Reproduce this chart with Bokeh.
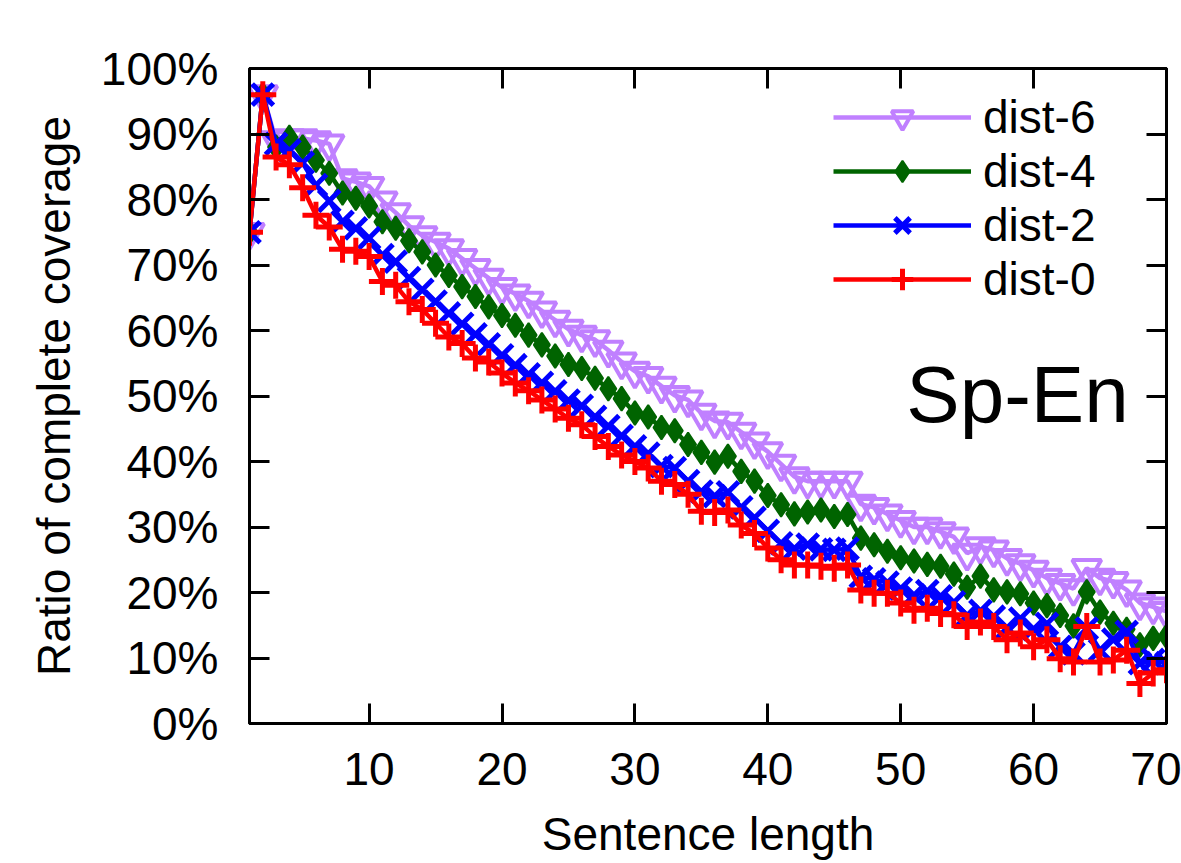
from bokeh.plotting import figure
from bokeh.models import (Range1d, FixedTicker, PrintfTickFormatter, LinearAxis,
                          Legend, LegendItem, Label)
from bokeh.embed import file_html
from bokeh.resources import INLINE

FONT = "Liberation Sans"

sentence_length = [1, 2, 3, 4, 5, 6, 7, 8, 9, 10,
                   11, 12, 13, 14, 15, 16, 17, 18, 19, 20,
                   21, 22, 23, 24, 25, 26, 27, 28, 29, 30,
                   31, 32, 33, 34, 35, 36, 37, 38, 39, 40,
                   41, 42, 43, 44, 45, 46, 47, 48, 49, 50,
                   51, 52, 53, 54, 55, 56, 57, 58, 59, 60,
                   61, 62, 63, 64, 65, 66, 67, 68, 69, 70]

dist6 = [75, 96, 89, 89.3, 89.3, 89, 88.5, 83.2, 82.7, 82, 79.8, 78, 76, 74.5, 73.5,
         72.5, 71, 69.5, 68, 66.6, 65.6, 64.5, 63, 61.6, 60.2, 59.3, 58.6, 57, 55.2, 53.8,
         53, 51.5, 50.1, 49.4, 47.4, 46.2, 46, 44.5, 43, 41.5, 39.6, 37.7, 37, 37, 37,
         37, 33.5, 33, 32, 31, 30, 30, 29.3, 28.5, 26, 27, 26.5, 25.2, 24.4, 23.4,
         22.2, 21.4, 20.6, 23.7, 22.2, 21.7, 20.4, 18.4, 17.8, 17.1]

dist4 = [75, 96, 88, 89.5, 88, 86, 84, 81, 80.2, 79, 76.6, 75.6, 73.7, 72, 70,
         68.4, 66.7, 65.2, 63.6, 62.3, 60.8, 59.3, 57.8, 56.1, 54.8, 54.2, 52.7, 51.1, 49.6, 47.4,
         46.8, 45.2, 44.7, 42.6, 41.4, 39.9, 40.8, 38.5, 37, 34.8, 33.4, 32, 32.3, 32.6, 31.6,
         31.9, 28.3, 27.3, 26.3, 25.3, 24.8, 24.3, 24, 22.8, 20.8, 22.5, 20.4, 20.1, 19.8, 18.4,
         18, 16.5, 14.9, 20.1, 17, 15.3, 14.4, 12, 13, 13.3]

dist2 = [75, 96, 88.5, 87.5, 85.6, 82.2, 79.8, 76.6, 75.6, 74.1, 71.5, 70.5, 68, 66.2, 64.4,
         62.6, 61, 59.4, 57.9, 56.2, 54.7, 53.3, 52, 50.7, 49.3, 48.5, 46.8, 45.4, 43.9, 42.3,
         41.2, 39.3, 39, 37, 35.4, 34.7, 35.3, 33, 31.4, 29.4, 27.5, 26.7, 27.3, 26.6, 26.5,
         26.7, 22.4, 22, 21.5, 20.6, 19.6, 20.2, 19.4, 18.5, 16.5, 17.2, 16.3, 14.6, 16, 14.4,
         15.2, 11.7, 10.7, 14.5, 11.2, 12.8, 14, 9.2, 9.7, 9.2]

dist0 = [75, 96, 86.5, 85.3, 81.8, 77.6, 75.8, 72.4, 72.1, 71.3, 67.5, 66.9, 64.4, 63.2, 61.1,
         59, 58, 55.8, 55.2, 53.5, 52, 50.8, 49.4, 48, 46.6, 45.6, 43.8, 42.3, 41, 40,
         39, 37, 36.5, 35, 32.4, 32.2, 32.6, 30.3, 29, 26.8, 25, 24.2, 24.2, 24, 23.7,
         24.2, 20.4, 19.9, 19.9, 18.4, 17.3, 17.6, 16.8, 16.6, 14.8, 15.5, 14.8, 12.8, 13.8, 11.7,
         12.8, 9.9, 9.4, 14.8, 9.4, 9.7, 11.2, 6.1, 7.7, 8.2]

x_ticks = [10, 20, 30, 40, 50, 60, 70]
y_ticks = [0, 10, 20, 30, 40, 50, 60, 70, 80, 90, 100]

p = figure(width=1181, height=863, x_range=Range1d(1, 70), y_range=Range1d(0, 100),
           output_backend="svg", toolbar_location=None,
           min_border_left=249, min_border_right=15, min_border_top=68, min_border_bottom=140,
           background_fill_color="white", border_fill_color="white")
p.grid.visible = False
p.outline_line_color = "black"
p.outline_line_width = 3

def style_axis(ax, show_labels=True):
    ax.major_tick_in = 20
    ax.major_tick_out = 0
    ax.minor_tick_in = 0
    ax.minor_tick_out = 0
    ax.major_tick_line_width = 3
    ax.major_tick_line_color = "black"
    ax.axis_line_width = 3
    ax.axis_line_color = "black"
    ax.major_label_text_font = FONT
    ax.axis_label_text_font = FONT
    ax.axis_label_text_font_size = "46px"
    ax.axis_label_text_font_style = "normal"
    ax.axis_label_text_color = "black"
    if show_labels:
        ax.major_label_text_font_size = "46px"
        ax.major_label_text_color = "black"
    else:
        # mirror ticks only: labels are not drawn at all
        ax.major_label_text_font_size = "1px"
        ax.major_label_text_color = None
        ax.major_label_standoff = 0

xa = p.xaxis[0]
xa.ticker = FixedTicker(ticks=x_ticks)
xa.axis_label = "Sentence length"
style_axis(xa)
xa.major_label_standoff = 29
xa.axis_label_standoff = 20

ya = p.yaxis[0]
ya.ticker = FixedTicker(ticks=y_ticks)
ya.formatter = PrintfTickFormatter(format="%d%%")
ya.axis_label = "Ratio of complete coverage"
style_axis(ya)
ya.major_label_standoff = 31
ya.axis_label_standoff = 18

top = LinearAxis(ticker=FixedTicker(ticks=x_ticks))
style_axis(top, show_labels=False)
p.add_layout(top, "above")
right = LinearAxis(ticker=FixedTicker(ticks=y_ticks))
style_axis(right, show_labels=False)
p.add_layout(right, "right")

series = [
    ("dist-6", dist6, "#c080ff", "inverted_triangle", 29, None, 4),
    ("dist-4", dist4, "#006400", "diamond", 24, "#006400", 2),
    ("dist-2", dist2, "#0000ff", "x", 30, None, 5),
    ("dist-0", dist0, "#ff0000", "cross", 27, None, 5),
]

items = []
for label, vals, color, marker, size, fill, mlw in series:
    lr = p.line(sentence_length, vals, line_color=color, line_width=4.5)
    sr = p.scatter(sentence_length, vals, marker=marker, size=size,
                   line_color=color, fill_color=fill, line_width=mlw)
    items.append(LegendItem(label=label, renderers=[lr, sr]))

legend = Legend(items=items, location="top_right", border_line_color=None,
                background_fill_alpha=0, label_text_font=FONT, label_text_font_size="46px",
                label_text_color="black",
                glyph_width=138, glyph_height=54, label_height=54, spacing=0,
                padding=10, margin=22, label_standoff=12, label_width=161)
p.add_layout(legend)

p.add_layout(Label(x=67.15, y=50.2, text="Sp-En", text_font=FONT, text_font_size="80px",
                   text_align="right", text_baseline="alphabetic", text_color="black"))

open("out.html", "w").write(file_html(p, INLINE))
